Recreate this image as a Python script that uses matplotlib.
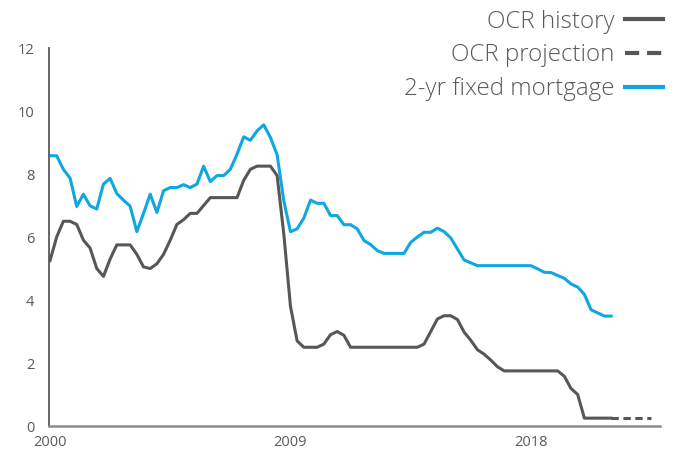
import numpy as np
import matplotlib.pyplot as plt
from matplotlib.lines import Line2D

plt.rcParams['font.family'] = ['Open Sans', 'DejaVu Sans']

# quarterly data, 2000 Q1 to 2021 Q1
ocr_history = [5.25, 6.0, 6.5, 6.5, 6.4, 5.9, 5.65, 5.0, 4.75, 5.3, 5.75, 5.75,
               5.75, 5.45, 5.05, 5.0, 5.15, 5.45, 5.9, 6.4, 6.55, 6.75, 6.75, 7.0,
               7.25, 7.25, 7.25, 7.25, 7.25, 7.8, 8.15, 8.25, 8.25, 8.25, 7.95, 6.1,
               3.8, 2.7, 2.5, 2.5, 2.5, 2.6, 2.9, 3.0, 2.88, 2.5, 2.5, 2.5,
               2.5, 2.5, 2.5, 2.5, 2.5, 2.5, 2.5, 2.5, 2.6, 3.0, 3.4, 3.5,
               3.5, 3.38, 2.98, 2.72, 2.42, 2.28, 2.09, 1.88, 1.75, 1.75, 1.75, 1.75,
               1.75, 1.75, 1.75, 1.75, 1.75, 1.58, 1.19, 1.0, 0.25, 0.25, 0.25, 0.25,
               0.25]
ocr_projection = [0.25, 0.25, 0.25, 0.25, 0.25, 0.25, 0.25]   # 2021 Q1 onwards
mortgage_2yr = [8.58, 8.58, 8.15, 7.87, 6.97, 7.36, 6.99, 6.89, 7.68, 7.86, 7.38, 7.17,
                6.98, 6.17, 6.75, 7.36, 6.78, 7.47, 7.57, 7.57, 7.66, 7.57, 7.68, 8.25,
                7.76, 7.95, 7.95, 8.15, 8.63, 9.18, 9.07, 9.37, 9.56, 9.16, 8.61, 7.15,
                6.17, 6.26, 6.6, 7.17, 7.07, 7.07, 6.68, 6.68, 6.39, 6.39, 6.26, 5.89,
                5.76, 5.57, 5.48, 5.48, 5.48, 5.48, 5.83, 6.0, 6.15, 6.15, 6.28, 6.17,
                5.97, 5.62, 5.27, 5.18, 5.09, 5.09, 5.09, 5.09, 5.09, 5.09, 5.09, 5.09,
                5.09, 4.99, 4.88, 4.87, 4.78, 4.69, 4.51, 4.41, 4.18, 3.69, 3.59, 3.49,
                3.49]
year_ticks = [2000, 2009, 2018]

grey = '#575757'
blue = '#0ea7df'

q_hist = np.arange(len(ocr_history))
q_proj = np.arange(len(ocr_projection)) + len(ocr_history) - 1
q_mort = np.arange(len(mortgage_2yr))

fig = plt.figure(figsize=(6.74, 4.55), dpi=100)
ax = fig.add_axes([0.0727, 0.0637, 0.9063, 0.8308])

ax.plot(q_hist, ocr_history, color=grey, lw=2.2, solid_joinstyle='round')
ax.plot(q_proj, ocr_projection, color=grey, lw=2.2, ls=(0, (2.4, 1.5)))
ax.plot(q_mort, mortgage_2yr, color=blue, lw=2.2, solid_joinstyle='round')

ax.set_xlim(-0.15, 91.3)
ax.set_ylim(0, 12)
ax.set_yticks(range(0, 13, 2))
ax.set_xticks([(y - 2000) * 4 for y in year_ticks])
ax.set_xticklabels([str(y) for y in year_ticks])
ax.tick_params(length=0, labelsize=10.5, colors='#595959')
ax.tick_params(axis='y', pad=10.5)
ax.tick_params(axis='x', pad=6.5)
for s in ['top', 'right']:
    ax.spines[s].set_visible(False)
ax.spines['left'].set_color('#595959')
ax.spines['left'].set_linewidth(1.3)
ax.spines['bottom'].set_color('#8c8c8c')
ax.spines['bottom'].set_linewidth(1.8)

handles = [Line2D([], [], color=grey, lw=3),
           Line2D([], [], color=grey, lw=3, ls=(0, (3.4, 1.9))),
           Line2D([], [], color=blue, lw=3)]
labels = ['OCR history', 'OCR projection', '2-yr fixed mortgage']
fig.legend(handles, labels, loc='upper right', bbox_to_anchor=(1.002, 1.005),
           frameon=False, markerfirst=False, handlelength=1.6,
           handletextpad=0.42, labelspacing=0.4, borderpad=0,
           labelcolor='#595959', prop={'weight': 'light', 'size': 17.4})

fig.savefig('out.png', dpi=100)
